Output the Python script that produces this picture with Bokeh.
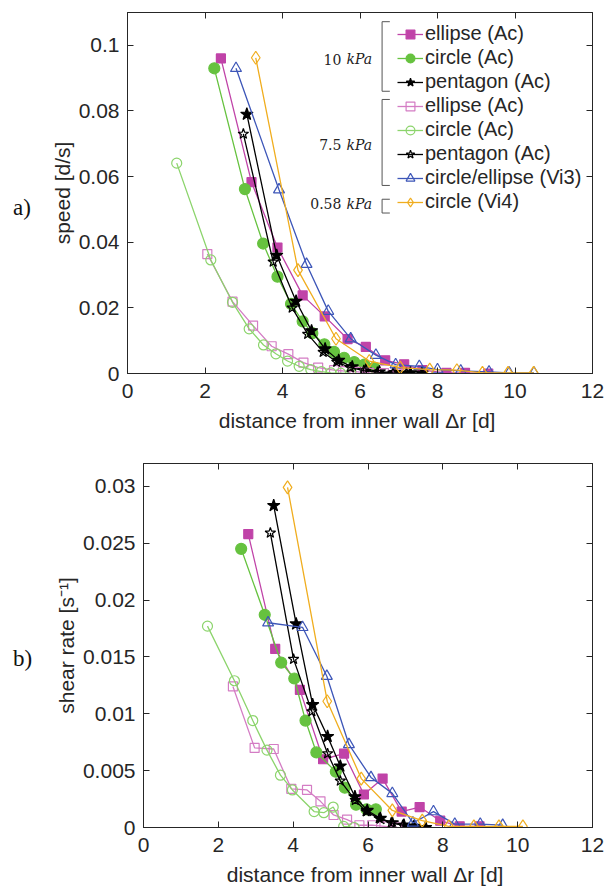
from bokeh.plotting import figure
from bokeh.layouts import column, row
from bokeh.models import Legend, LegendItem, LinearAxis, Range1d, FixedTicker, Div, CustomJSTickFormatter
from bokeh.core.properties import value
from bokeh.embed import file_html
from bokeh.resources import INLINE

FONT = "Liberation Sans"
SERIF = "DejaVu Serif"

# ---------------- data: panel a) speed [d/s] ----------------
a_ell10_x = [2.41, 3.2, 3.87, 4.52, 5.09, 5.68, 6.15, 6.65, 7.14, 7.61, 8.23, 8.71, 9.31]
a_ell10_y = [0.096, 0.0583, 0.0384, 0.0238, 0.0174, 0.0105, 0.0081, 0.004, 0.0028, 0.001, 0.0002, 0.0002, 0.0]
a_cir10_x = [2.24, 3.03, 3.5, 3.87, 4.22, 4.52, 4.77, 5.08, 5.33, 5.59, 5.85, 6.11, 6.37]
a_cir10_y = [0.093, 0.0562, 0.0396, 0.0295, 0.0212, 0.0159, 0.0123, 0.0089, 0.0066, 0.0048, 0.0035, 0.0027, 0.0018]
a_pen10_x = [3.08, 3.85, 4.35, 4.75, 5.1, 5.45, 5.8, 6.15, 6.5, 6.9, 7.3, 7.6]
a_pen10_y = [0.079, 0.036, 0.022, 0.013, 0.0075, 0.004, 0.002, 0.001, 0.0005, 0.0003, 0.0002, 0.0001]
a_ell75_x = [2.06, 2.71, 3.24, 3.72, 4.15, 4.54, 4.92, 5.33, 5.62, 5.94, 6.24, 6.62, 6.97]
a_ell75_y = [0.0364, 0.0219, 0.0146, 0.0083, 0.0059, 0.0033, 0.0018, 0.001, 0.0007, 0.0005, 0.0002, 0.0001, 0.0]
a_cir75_x = [1.27, 2.15, 2.71, 3.14, 3.51, 3.83, 4.13, 4.43, 4.73, 5.0, 5.25, 5.5, 5.76]
a_cir75_y = [0.0641, 0.0346, 0.0217, 0.0136, 0.0087, 0.006, 0.0038, 0.0022, 0.0012, 0.0006, 0.0002, 0.0001, 0.0]
a_pen75_x = [2.99, 3.76, 4.25, 4.65, 5.05, 5.4, 5.75, 6.1, 6.45, 6.85, 7.2]
a_pen75_y = [0.073, 0.034, 0.020, 0.012, 0.0065, 0.0035, 0.0018, 0.0009, 0.0004, 0.0002, 0.0001]
a_vi3_x = [2.8, 3.91, 4.62, 5.18, 5.76, 6.41, 6.92, 7.53, 8.0, 8.6, 9.33, 9.85, 10.49]
a_vi3_y = [0.093, 0.056, 0.0333, 0.019, 0.0106, 0.0056, 0.0027, 0.0022, 0.0012, 0.0008, 0.0005, 0.0002, 0.0002]
a_vi4_x = [3.31, 4.4, 5.38, 6.24, 7.04, 7.8, 8.5, 9.16, 9.82, 10.48]
a_vi4_y = [0.0962, 0.0315, 0.0106, 0.0038, 0.0018, 0.0012, 0.001, 0.0002, 0.0002, 0.0002]

# ---------------- data: panel b) shear rate [1/s] ----------------
b_ell10_x = [2.8, 3.52, 4.18, 4.8, 5.36, 5.89, 6.39, 6.9, 7.38, 7.93, 8.45, 8.98]
b_ell10_y = [0.0258, 0.0157, 0.0121, 0.006, 0.0065, 0.0029, 0.0043, 0.0014, 0.0018, 0.0006, 0.0001, 0.0001]
b_cir10_x = [2.61, 3.24, 3.68, 4.03, 4.33, 4.62, 5.14, 5.38, 5.68, 5.96, 6.21]
b_cir10_y = [0.0245, 0.0187, 0.0145, 0.0131, 0.0094, 0.0066, 0.0049, 0.0035, 0.002, 0.0016, 0.0016]
b_pen10_x = [3.48, 4.08, 4.52, 4.92, 5.26, 5.65, 5.98, 6.33, 6.65, 6.96, 7.23, 7.54]
b_pen10_y = [0.0283, 0.0179, 0.0108, 0.008, 0.0054, 0.0027, 0.0015, 0.0008, 0.0004, 0.0002, 0.0001, 0.0]
b_ell75_x = [2.39, 2.97, 3.48, 3.95, 4.37, 4.73, 5.08, 5.44, 5.77, 6.11, 6.44, 6.78]
b_ell75_y = [0.0124, 0.007, 0.0069, 0.0034, 0.0033, 0.0023, 0.0011, 0.0007, 0.0002, 0.0002, 0.0001, 0.0]
b_cir75_x = [1.71, 2.43, 2.92, 3.3, 3.66, 3.98, 4.56, 4.82, 5.07, 5.35, 5.63]
b_cir75_y = [0.0177, 0.0129, 0.0094, 0.0068, 0.0046, 0.0033, 0.0014, 0.0013, 0.0018, 0.0001, 0.0]
b_pen75_x = [3.39, 4.01, 4.5, 4.92, 5.26, 5.66, 5.95, 6.3, 6.62, 6.93, 7.2]
b_pen75_y = [0.0259, 0.0148, 0.0102, 0.0065, 0.0041, 0.0024, 0.0014, 0.0008, 0.0004, 0.0002, 0.0001]
b_vi3_x = [3.33, 4.25, 4.9, 5.49, 6.08, 6.65, 7.2, 7.75, 8.32, 9.0, 9.6]
b_vi3_y = [0.018, 0.0176, 0.0133, 0.0073, 0.0044, 0.003, 0.0004, 0.0014, 0.0003, 0.0003, 0.0002]
b_vi4_x = [3.85, 4.91, 5.82, 6.65, 7.45, 8.16, 8.83, 9.5, 10.14]
b_vi4_y = [0.0299, 0.0111, 0.0043, 0.0015, 0.0006, 0.0001, 0.0001, 0.0001, 0.0001]

legend_labels = ["ellipse (Ac)", "circle (Ac)", "pentagon (Ac)", "ellipse (Ac)",
                 "circle (Ac)", "pentagon (Ac)", "circle/ellipse (Vi3)", "circle (Vi4)"]
group_numbers = ["10", "7.5", "0.58"]
x_ticks = [0, 2, 4, 6, 8, 10, 12]
a_y_ticks = [0, 0.02, 0.04, 0.06, 0.08, 0.1]
b_y_ticks = [0, 0.005, 0.01, 0.015, 0.02, 0.025, 0.03]

MAG = "#C043A8"
GRN = "#66C23F"
BLK = "#000000"
MAG_L = "#D47CC4"
GRN_L = "#8CD46C"
BLU = "#3D56B8"
ORG = "#F0AD1E"

# style per series: (color, marker, size, filled)
styles = [
    (MAG, "square", 9, True),
    (GRN, "circle", 11, True),
    (BLK, "star", 13, True),
    (MAG_L, "square", 9, False),
    (GRN_L, "circle", 10, False),
    (BLK, "star", 11, False),
    (BLU, "triangle", 11, False),
    (ORG, "diamond", 13, False),
]

AXC = "#262626"
DIV_W = 40
FIG_W = 606 - DIV_W


def make_fig(height, top_b, bottom_b, left_b, ymax, yticks, fmt_ticks):
    p = figure(width=FIG_W, height=height, output_backend="svg", toolbar_location=None,
               x_range=Range1d(0, 12), y_range=Range1d(0, ymax),
               min_border_left=left_b, min_border_right=14, min_border_top=top_b,
               min_border_bottom=bottom_b, margin=0)
    p.xgrid.visible = False
    p.ygrid.visible = False
    p.outline_line_color = AXC
    p.outline_line_width = 1
    p.background_fill_color = "white"
    p.border_fill_color = "white"
    for ax in (p.xaxis[0], p.yaxis[0]):
        ax.axis_line_color = AXC
        ax.major_tick_line_color = AXC
        ax.major_tick_in = 6
        ax.major_tick_out = 0
        ax.minor_tick_line_color = None
        ax.major_label_text_font = FONT
        ax.major_label_text_font_size = "21px"
        ax.major_label_text_color = AXC
        ax.axis_label_text_font = FONT
        ax.axis_label_text_font_size = "21px"
        ax.axis_label_text_font_style = "normal"
        ax.axis_label_text_color = AXC
    p.xaxis[0].ticker = FixedTicker(ticks=x_ticks)
    p.yaxis[0].ticker = FixedTicker(ticks=yticks)
    p.yaxis[0].major_label_overrides = fmt_ticks
    p.xaxis[0].major_label_standoff = 10
    p.yaxis[0].major_label_standoff = 8
    p.xaxis[0].axis_label = "distance from inner wall  \u0394r [d]"
    p.xaxis[0].axis_label_standoff = 8
    # box ticks on top/right (no labels)
    blank = CustomJSTickFormatter(code="return '';")
    top = LinearAxis(ticker=FixedTicker(ticks=x_ticks), formatter=blank,
                     axis_line_color=AXC, major_tick_line_color=AXC, major_tick_in=6,
                     major_tick_out=0, minor_tick_line_color=None, major_label_standoff=0)
    right = LinearAxis(ticker=FixedTicker(ticks=yticks), formatter=blank,
                       axis_line_color=AXC, major_tick_line_color=AXC, major_tick_in=6,
                       major_tick_out=0, minor_tick_line_color=None, major_label_standoff=0)
    p.add_layout(top, "above")
    p.add_layout(right, "right")
    return p


def draw(p, xs_list, ys_list):
    items = []
    for (col, mk, sz, filled), xs, ys in zip(styles, xs_list, ys_list):
        r1 = p.line(xs, ys, line_color=col, line_width=1.3)
        r2 = p.scatter(xs, ys, marker=mk, size=sz, line_color=col, line_width=1.2,
                       fill_color=(col if filled else None))
        items.append([r1, r2])
    return items


def panel_label(text, height, top):
    html = ('<div style="position:absolute; left:13px; top:%dpx; font-family:\'Liberation Serif\', serif;'
            ' font-size:23px; color:#111111; line-height:1;">%s</div>' % (top, text))
    return Div(text=html, width=DIV_W, height=height, margin=0,
               styles={"position": "relative", "background-color": "white"})


# ---------------- panel a ----------------
pa = make_fig(440, 12, 67, 127 - DIV_W, 0.11, a_y_ticks,
              {0: "0", 0.02: "0.02", 0.04: "0.04", 0.06: "0.06", 0.08: "0.08", 0.1: "0.1"})
pa.yaxis[0].axis_label = "speed [d/s]"
pa.yaxis[0].axis_label_standoff = 2
items_a = draw(pa,
               [a_ell10_x, a_cir10_x, a_pen10_x, a_ell75_x, a_cir75_x, a_pen75_x, a_vi3_x, a_vi4_x],
               [a_ell10_y, a_cir10_y, a_pen10_y, a_ell75_y, a_cir75_y, a_pen75_y, a_vi3_y, a_vi4_y])
legend = Legend(items=[LegendItem(label=lab, renderers=rs) for lab, rs in zip(legend_labels, items_a)],
                location=(270, 160), padding=0, margin=0, spacing=1,
                label_text_font=FONT, label_text_font_size="20px", label_text_color=AXC,
                label_height=22, glyph_height=22, glyph_width=26, label_standoff=2,
                border_line_color=None, background_fill_alpha=0)
pa.add_layout(legend)

# brackets for pressure groups
br_x = [6.57, 6.57, 6.57]
br_top = [0.1072, 0.0835, 0.0531]
br_bot = [0.086, 0.0573, 0.0489]
for bx, bt, bb in zip(br_x, br_top, br_bot):
    pa.line([bx + 0.2, bx, bx, bx + 0.2], [bt, bt, bb, bb], line_color="#555555", line_width=1)
grp_y = [0.0958, 0.0697, 0.0518]
pa.text(x=[5.52] * 3, y=grp_y, text=group_numbers, text_align="right", text_baseline="middle",
        text_font=value(SERIF), text_font_size="14px", text_color="#222222")
pa.text(x=[5.65] * 3, y=grp_y, text=["kPa"] * 3, text_align="left", text_baseline="middle",
        text_font=value(SERIF), text_font_size="14px", text_font_style="italic", text_color="#222222")

# ---------------- panel b ----------------
pb = make_fig(449, 23, 62, 143 - DIV_W, 0.032, b_y_ticks,
              {0: "0", 0.005: "0.005", 0.01: "0.01", 0.015: "0.015", 0.02: "0.02", 0.025: "0.025", 0.03: "0.03"})
pb.yaxis[0].axis_label = "shear rate [s\u207b\u00b9]"
pb.yaxis[0].axis_label_standoff = 2
draw(pb,
     [b_ell10_x, b_cir10_x, b_pen10_x, b_ell75_x, b_cir75_x, b_pen75_x, b_vi3_x, b_vi4_x],
     [b_ell10_y, b_cir10_y, b_pen10_y, b_ell75_y, b_cir75_y, b_pen75_y, b_vi3_y, b_vi4_y])

layout = column(row(panel_label("a)", 440, 196), pa, spacing=0, margin=0),
                row(panel_label("b)", 449, 207), pb, spacing=0, margin=0), spacing=0, margin=0)
open("out.html", "w").write(file_html(layout, INLINE))
